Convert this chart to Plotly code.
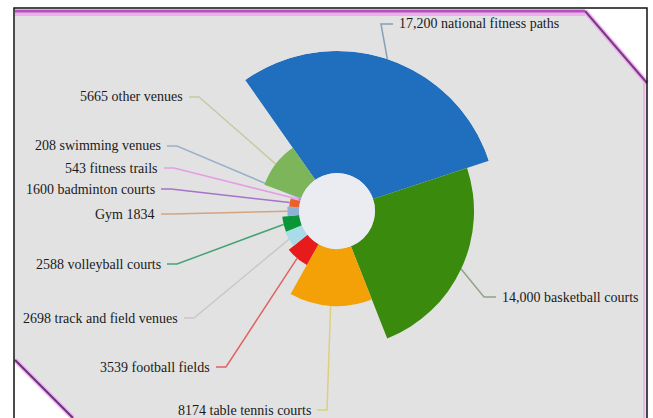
import numpy as np
import plotly.graph_objects as go

W, H = 653, 418

# Venue data (clockwise order)
categories = ["national fitness paths", "basketball courts", "table tennis courts",
              "football fields", "track and field venues", "volleyball courts", "Gym",
              "badminton courts", "fitness trails", "swimming venues", "other venues"]
values = [17200, 14000, 8174, 3539, 2698, 2588, 1834, 1600, 543, 208, 5665]
label_formats = ["{:,} national fitness paths", "{:,} basketball courts",
                 "{} table tennis courts", "{} football fields",
                 "{} track and field venues", "{} volleyball courts", "Gym {}",
                 "{} badminton courts", "{} fitness trails", "{} swimming venues",
                 "{} other venues"]
slice_colors = ["#1f6fbe", "#3a8a0e", "#f3a107", "#e71a1c", "#a9dbe9", "#0a9636",
                "#8fb1d6", "#e8622a", "#e070d0", "#a0b8d8", "#7db55a"]
leader_colors = ["#8a9fb3", "#94a383", "#ddd07a", "#e06262", "#c8c8c8", "#45a474",
                 "#d2a482", "#a574c8", "#e59ee2", "#9cb0cc", "#c9c9a2"]

# Label placement (pixel anchor, side of the chart)
label_x = [397, 500, 313, 212, 180, 163, 157, 157, 160, 163, 185]
label_y = [24, 297, 410, 367, 318, 264, 214, 189, 168, 146, 97]
label_side = ["right", "right", "left", "left", "left", "left", "left", "left",
              "left", "left", "left"]

# Chart geometry (pixels)
CX, CY = 337, 211
R_OUT, R_IN = 160, 38
START = -35  # degrees clockwise from 12 o'clock where the first slice begins

vals = np.array(values, dtype=float)
vmin, vmax = vals.min(), vals.max()
widths = vals / vals.sum() * 360.0
thetas = np.cumsum(widths) - widths / 2

fig = go.Figure()
fig.add_trace(go.Barpolar(
    r=vals - vmin, base=vmin, theta=thetas, width=widths,
    marker=dict(color=slice_colors, line=dict(width=0)),
    text=categories, hoverinfo="text", showlegend=False,
))


def px_to_paper(x, y):
    return x / W, 1 - y / H


shapes = []
# Frame background: grey hexagonal panel with purple edges
poly = [(15, 10), (585, 10), (647, 82), (647, 418), (72, 418), (15, 360)]
path = "M " + " L ".join(f"{px_to_paper(x, y)[0]:.5f},{px_to_paper(x, y)[1]:.5f}" for x, y in poly) + " Z"
shapes.append(dict(type="path", path=path, xref="paper", yref="paper", layer="below",
                   fillcolor="#e2e2e3", line=dict(width=0)))


def seg(pts, color, width, layer="below"):
    p = "M " + " L ".join(f"{px_to_paper(x, y)[0]:.5f},{px_to_paper(x, y)[1]:.5f}" for x, y in pts)
    return dict(type="path", path=p, xref="paper", yref="paper", layer=layer,
                line=dict(color=color, width=width))


# purple border with a soft pink glow
shapes.append(seg([(15, 14), (585, 14)], "rgba(235,165,235,0.8)", 4))
shapes.append(seg([(15, 11), (585, 11)], "#b650bd", 3))
shapes.append(seg([(585, 11), (647, 83)], "rgba(235,160,235,0.7)", 5))
shapes.append(seg([(585, 11), (647, 83)], "#7c3888", 2))
shapes.append(seg([(15, 360), (73, 418)], "rgba(235,160,235,0.7)", 5))
shapes.append(seg([(15, 360), (73, 418)], "#6c2f78", 2))
shapes.append(seg([(644, 83), (644, 418)], "rgba(230,170,230,0.7)", 2))
# outer black frame
shapes.append(seg([(14, 420), (14, 8), (647, 8), (647, 420)], "#111111", 1.5, layer="above"))

# light centre disc
x0, y0 = px_to_paper(CX - R_IN, CY + R_IN)
x1, y1 = px_to_paper(CX + R_IN, CY - R_IN)
shapes.append(dict(type="circle", xref="paper", yref="paper", x0=x0, y0=y0, x1=x1, y1=y1,
                   layer="below", fillcolor="#eaecf1", line=dict(width=0)))

annotations = []
for i, v in enumerate(values):
    rp = R_IN + (v - vmin) / (vmax - vmin) * (R_OUT - R_IN)
    ang = np.radians(START + thetas[i])
    ex, ey = CX + rp * np.sin(ang), CY - rp * np.cos(ang)
    lx, ly = label_x[i], label_y[i]
    if label_side[i] == "left":
        pts = [(lx + 4, ly), (lx + 14, ly), (ex, ey)]
        xanchor = "right"
    else:
        pts = [(lx - 4, ly), (lx - 16, ly), (ex, ey)]
        xanchor = "left"
    shapes.append(seg(pts, leader_colors[i], 1.5))
    ax, ay = px_to_paper(lx, ly)
    annotations.append(dict(x=ax, y=ay, xref="paper", yref="paper", showarrow=False,
                            xanchor=xanchor, yanchor="middle",
                            text=label_formats[i].format(v),
                            font=dict(family="Liberation Serif", size=14, color="#1a1a1a")))

fig.update_layout(
    width=W, height=H, margin=dict(l=0, r=0, t=0, b=0),
    paper_bgcolor="white", plot_bgcolor="white",
    polar=dict(
        domain=dict(x=[(CX - R_OUT) / W, (CX + R_OUT) / W],
                    y=[(H - CY - R_OUT) / H, (H - CY + R_OUT) / H]),
        bgcolor="rgba(0,0,0,0)",
        hole=R_IN / R_OUT,
        radialaxis=dict(range=[vmin, vmax], showline=False, showgrid=False,
                        showticklabels=False, ticks=""),
        angularaxis=dict(direction="clockwise", rotation=90 - START,
                         showline=False, showgrid=False, showticklabels=False, ticks=""),
        bargap=0,
    ),
    shapes=shapes, annotations=annotations,
)

fig.write_html("out.html")
